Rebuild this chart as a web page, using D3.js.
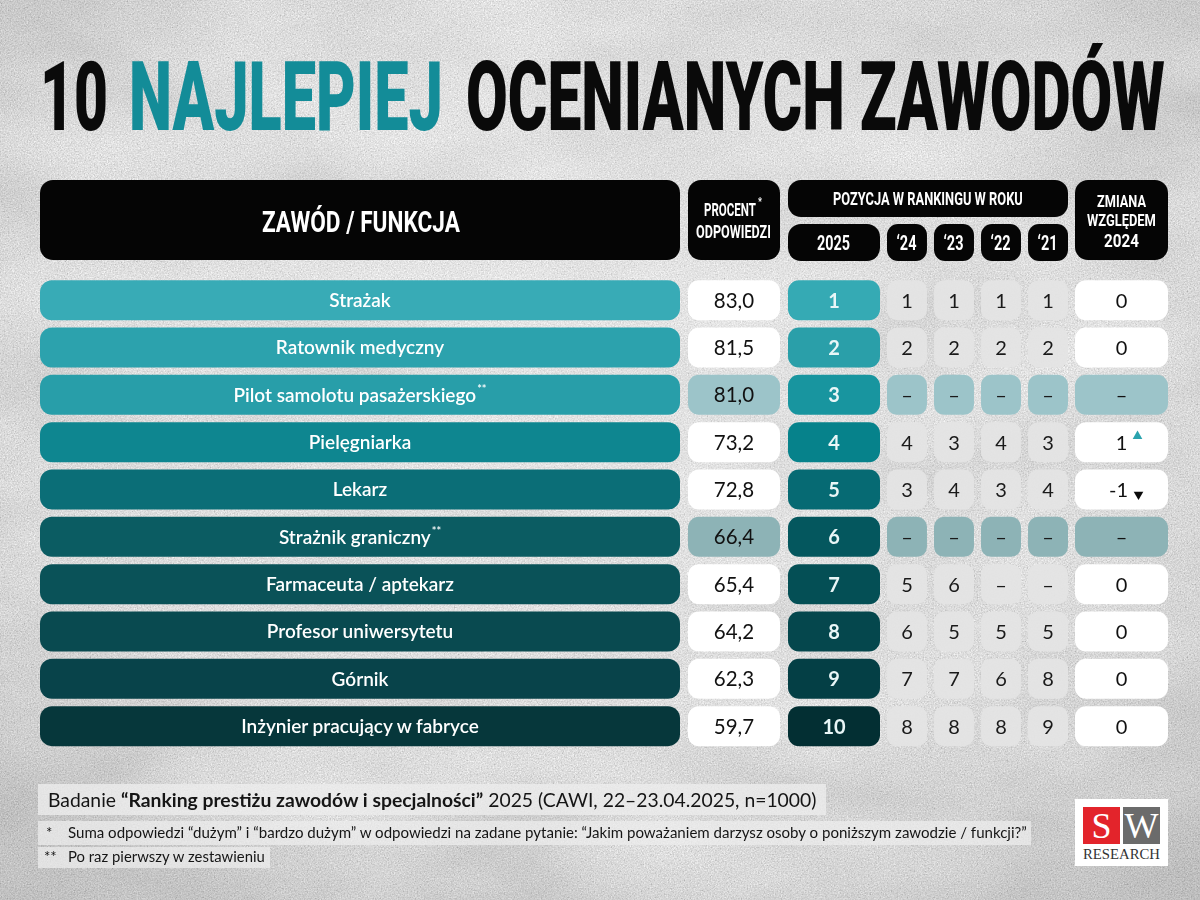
<!DOCTYPE html>
<html><head><meta charset="utf-8">
<script src="https://cdn.jsdelivr.net/npm/d3@7"></script>
<style>html,body{margin:0;padding:0;background:#d0d0d0;} svg{display:block;}</style>
</head><body>
<script>
// ---------------- DATA ----------------
const professions = ["Strażak","Ratownik medyczny","Pilot samolotu pasażerskiego","Pielęgniarka","Lekarz","Strażnik graniczny","Farmaceuta / aptekarz","Profesor uniwersytetu","Górnik","Inżynier pracujący w fabryce"];
const firstTime = [false,false,true,false,false,true,false,false,false,false];
const percent = [83.0,81.5,81.0,73.2,72.8,66.4,65.4,64.2,62.3,59.7];
const rank2025 = [1,2,3,4,5,6,7,8,9,10];
const rank24 = [1,2,null,4,3,null,5,6,7,8];
const rank23 = [1,2,null,3,4,null,6,5,7,8];
const rank22 = [1,2,null,4,3,null,null,5,6,8];
const rank21 = [1,2,null,3,4,null,null,5,8,9];
const change = [0,0,null,1,-1,null,0,0,0,0];
const yearLabels = ["‘24","‘23","‘22","‘21"];
const yearRanks = [rank24, rank23, rank22, rank21];
const titleParts = ["10","NAJLEPIEJ","OCENIANYCH ZAWODÓW"];

// ---------------- STYLE ----------------
const barColors  = ["#38abb6","#2ca2ad","#289ea9","#0e8690","#0b6e77","#0b5c62","#0a5258","#094a50","#08434a","#06373b"];
const rankColors = ["#35aab4","#2a9fa9","#18959f","#06828b","#066a73","#04575e","#044f55","#05474d","#043f45","#032f33"];
const newColors = {2:"#9cc4c9", 5:"#8db3b6"};
const teal = "#138c98";

const W = 1200, H = 900;
const svg = d3.select("body").append("svg").attr("width",W).attr("height",H);
const defs = svg.append("defs");

// background texture
const f = defs.append("filter").attr("id","noise").attr("x",0).attr("y",0).attr("width","100%").attr("height","100%");
f.append("feTurbulence").attr("type","fractalNoise").attr("baseFrequency","0.7").attr("numOctaves",3).attr("seed",7);
f.append("feColorMatrix").attr("type","matrix").attr("values","0.36 0.36 0.36 0 0.25  0.36 0.36 0.36 0 0.25  0.36 0.36 0.36 0 0.25  0 0 0 0 1");
const f2 = defs.append("filter").attr("id","blot").attr("x",0).attr("y",0).attr("width","100%").attr("height","100%");
f2.append("feTurbulence").attr("type","fractalNoise").attr("baseFrequency","0.005 0.012").attr("numOctaves",4).attr("seed",2);
f2.append("feColorMatrix").attr("type","matrix").attr("values","0.6 0.6 0 0 -0.05  0.6 0.6 0 0 -0.05  0.6 0.6 0 0 -0.05  0 0 0 0 1");
const rg = defs.append("radialGradient").attr("id","vign").attr("cx","50%").attr("cy","42%").attr("r","72%");
rg.append("stop").attr("offset","0%").attr("stop-color","#fff").attr("stop-opacity",0.25);
rg.append("stop").attr("offset","60%").attr("stop-color","#fff").attr("stop-opacity",0.05);
rg.append("stop").attr("offset","100%").attr("stop-color","#000").attr("stop-opacity",0.12);

svg.append("rect").attr("width",W).attr("height",H).attr("filter","url(#noise)");
svg.append("rect").attr("width",W).attr("height",H).attr("filter","url(#blot)").attr("opacity",0.22).style("mix-blend-mode","multiply");
svg.append("rect").attr("width",W).attr("height",H).attr("fill","url(#vign)");

// squeeze a text horizontally so that it spans [x0, x0+width] at baseline y
function fit(t, x0, y, width){
  t.attr("x",0).attr("y",0);
  const w = t.node().getComputedTextLength();
  t.attr("transform",`translate(${x0},${y}) scale(${width/w},1)`);
  return t;
}

// ---------------- TITLE ----------------
const titleSpans = [[40,108,"#0a0a0a"],[129,443,teal],[466,1165,"#0a0a0a"]];
titleParts.forEach((s,i)=>{
  const [x0,x1,c] = titleSpans[i];
  const t = svg.append("text").attr("fill",c)
    .attr("font-family","Roboto, 'DejaVu Sans', sans-serif").attr("font-weight",900).attr("font-size",96).text(s);
  fit(t,x0,130,x1-x0);
});

// ---------------- HEADER ----------------
const hdr = svg.append("g");
function box(g,x0,x1,y0,y1,fill,r){
  return g.append("rect").attr("x",x0).attr("y",y0).attr("width",x1-x0).attr("height",y1-y0).attr("rx",r).attr("fill",fill);
}
function cond(g,x,y,str,size,width){
  const t = g.append("text").attr("fill","#fff")
    .attr("font-family","Roboto, 'DejaVu Sans', sans-serif").attr("font-weight",700).attr("font-size",size).text(str);
  return fit(t,x,y,width);
}
const colPct = [688,780], col25 = [788,880], colChg = [1075,1168];
const xYear = d3.scaleBand().domain(yearLabels).range([887,1068]).paddingInner(0.15);

box(hdr,40,680,180,260,"#050505",13);
box(hdr,colPct[0],colPct[1],180,260,"#050505",13);
box(hdr,col25[0],1068,180,217,"#050505",13);
box(hdr,col25[0],col25[1],224,261,"#050505",13);
yearLabels.forEach(l=>box(hdr,xYear(l),xYear(l)+xYear.bandwidth(),224,261,"#050505",11));
box(hdr,colChg[0],colChg[1],180,260,"#050505",13);

cond(hdr,262,232,"ZAWÓD / FUNKCJA",30,198);
cond(hdr,704,216,"PROCENT",18.5,52);
cond(hdr,758,205,"*",10,4);
cond(hdr,696,238,"ODPOWIEDZI",18.5,75);
cond(hdr,833,205,"POZYCJA W RANKINGU W ROKU",18,190);
cond(hdr,817,250,"2025",21,33);
yearLabels.forEach(l=>{
  const cx = xYear(l)+xYear.bandwidth()/2;
  cond(hdr,cx-10.5,250,l,21,20);
});
cond(hdr,1097,207,"ZMIANA",16.5,49);
cond(hdr,1087,226,"WZGLĘDEM",16.5,69);
cond(hdr,1104,247,"2024",18.5,35);

// ---------------- ROWS ----------------
const y = d3.scaleBand().domain(professions).range([276.5,749.8]).paddingInner(0.155).paddingOuter(0.0775);
const bh = y.bandwidth();
const fmt = v => v.toFixed(1).replace(".",",");
const rows = svg.append("g").selectAll("g").data(professions).join("g")
  .attr("transform",d=>`translate(0,${y(d)})`);

rows.each(function(d,i){
  const g = d3.select(this);
  const cy = bh/2;
  const isNew = firstTime[i];
  const light = isNew ? newColors[i] : null;
  box(g,40,680,0,bh,barColors[i],12);
  const t = g.append("text").attr("x",360).attr("y",cy+7).attr("text-anchor","middle").attr("fill","#fff")
    .attr("font-family","Lato, 'Open Sans', sans-serif").attr("font-weight",600).attr("font-size",19).text(d);
  if(isNew) t.append("tspan").attr("dy",-9).attr("font-size",11).attr("dx",1).text("**");
  box(g,colPct[0],colPct[1],0,bh,isNew?light:"#ffffff",11);
  g.append("text").attr("x",(colPct[0]+colPct[1])/2).attr("y",cy+7.5).attr("text-anchor","middle").attr("fill","#111")
    .attr("font-family","Lato, sans-serif").attr("font-size",20.5).text(fmt(percent[i]));
  box(g,col25[0],col25[1],0,bh,rankColors[i],11);
  g.append("text").attr("x",(col25[0]+col25[1])/2).attr("y",cy+7.5).attr("text-anchor","middle").attr("fill","#e9f6f7")
    .attr("font-family","Lato, sans-serif").attr("font-weight",700).attr("font-size",20).text(rank2025[i]);
  yearLabels.forEach((l,k)=>{
    const v = yearRanks[k][i];
    const x0 = xYear(l);
    box(g,x0,x0+xYear.bandwidth(),0,bh,isNew?light:"#e4e4e4",10).attr("opacity",isNew?1:0.95);
    g.append("text").attr("x",x0+xYear.bandwidth()/2).attr("y",cy+7.5).attr("text-anchor","middle").attr("fill","#1a1a1a")
      .attr("font-family","Lato, sans-serif").attr("font-size",20).text(v==null?"–":v);
  });
  box(g,colChg[0],colChg[1],0,bh,isNew?light:"#ffffff",11);
  const c = change[i];
  const ccx = (colChg[0]+colChg[1])/2;
  g.append("text").attr("x",c<0?ccx-3:ccx).attr("y",cy+7.5).attr("text-anchor","middle").attr("fill","#111")
    .attr("font-family","Lato, sans-serif").attr("font-size",20).text(c==null?"–":c);
  if(c>0){
    g.append("path").attr("d",d3.symbol(d3.symbolTriangle,40)()).attr("fill","#2aa3ae")
      .attr("transform",`translate(${ccx+16},${cy-6})`);
  } else if(c<0){
    g.append("path").attr("d",d3.symbol(d3.symbolTriangle,40)()).attr("fill","#0a0a0a")
      .attr("transform",`translate(${ccx+17},${cy+5}) rotate(180)`);
  }
});

// ---------------- FOOTER ----------------
const ft = svg.append("g");
ft.append("rect").attr("x",38).attr("y",784).attr("width",788).attr("height",31).attr("fill","#ececec").attr("opacity",0.8);
ft.append("rect").attr("x",38).attr("y",821).attr("width",993).attr("height",24).attr("fill","#ececec").attr("opacity",0.75);
ft.append("rect").attr("x",38).attr("y",847).attr("width",232).attr("height",21).attr("fill","#ececec").attr("opacity",0.75);
const l1 = ft.append("text").attr("fill","#151515").attr("font-family","Lato, sans-serif").attr("font-size",19);
l1.append("tspan").text("Badanie ");
l1.append("tspan").attr("font-weight",700).text("“Ranking prestiżu zawodów i specjalności”");
l1.append("tspan").text(" 2025 (CAWI, 22–23.04.2025, n=1000)");
fit(l1,48,807,769);
ft.append("text").attr("x",46).attr("y",838).attr("font-family","Lato, sans-serif").attr("font-size",15).attr("fill","#151515").text("*");
fit(ft.append("text").attr("font-family","Lato, sans-serif").attr("font-size",15).attr("fill","#151515")
  .text("Suma odpowiedzi “dużym” i “bardzo dużym” w odpowiedzi na zadane pytanie: “Jakim poważaniem darzysz osoby o poniższym zawodzie / funkcji?”"),68,838,960);
ft.append("text").attr("x",44).attr("y",862).attr("font-family","Lato, sans-serif").attr("font-size",15).attr("fill","#151515").text("**");
fit(ft.append("text").attr("font-family","Lato, sans-serif").attr("font-size",15).attr("fill","#151515")
  .text("Po raz pierwszy w zestawieniu"),68,862,197);

// logo
const lg = svg.append("g");
lg.append("rect").attr("x",1075).attr("y",799).attr("width",93).attr("height",67).attr("fill","#fff");
lg.append("rect").attr("x",1083).attr("y",807).attr("width",37).attr("height",37).attr("fill","#e3242b");
lg.append("rect").attr("x",1123).attr("y",807).attr("width",37).attr("height",37).attr("fill","#6b6b6b");
lg.append("text").attr("x",1101.5).attr("y",838).attr("text-anchor","middle").attr("fill","#fff")
  .attr("font-family","'Liberation Serif', serif").attr("font-size",36).text("S");
lg.append("text").attr("x",1141.5).attr("y",838).attr("text-anchor","middle").attr("fill","#fff")
  .attr("font-family","'Liberation Serif', serif").attr("font-size",36).text("W");
fit(lg.append("text").attr("fill","#333").attr("font-family","'Liberation Serif', serif").attr("font-size",14).text("RESEARCH"),1083,859,77);
</script>
</body></html>
